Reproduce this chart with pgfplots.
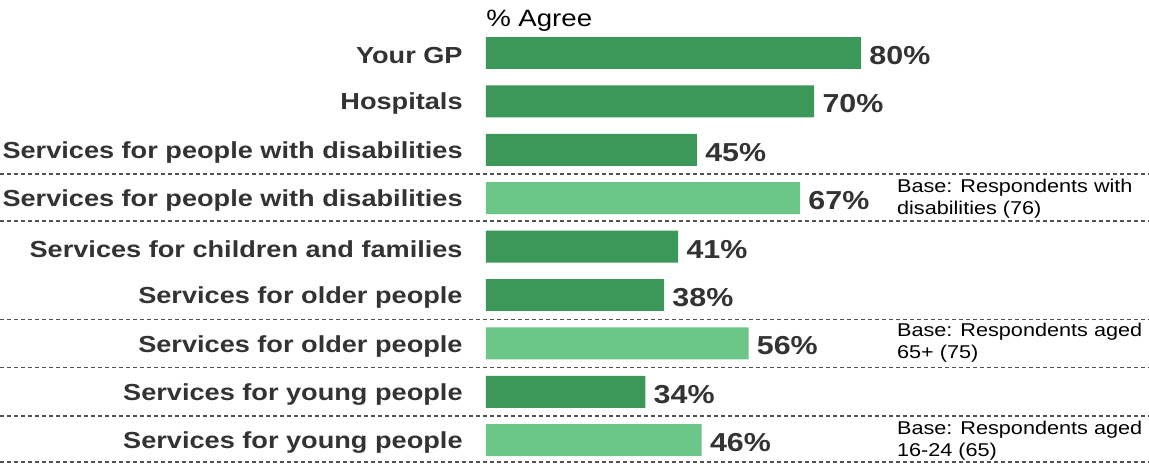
\documentclass[border=0pt]{standalone}
\usepackage{fontspec}
\setmainfont{Liberation Sans}
\usepackage{graphicx}
\usepackage{pgfplots}
\pgfplotsset{compat=1.18}
\definecolor{darkbar}{RGB}{59,152,89}
\definecolor{lightbar}{RGB}{108,198,135}
\definecolor{txt}{RGB}{51,51,51}
% reference text is set a little wide
\newcommand{\sx}[1]{\scalebox{1.17}[1]{#1}}

\begin{document}
\begin{tikzpicture}
\begin{axis}[
    width=574.5pt, height=233pt, scale only axis,
    xmin=-103.6, xmax=141.4,
    ymin=-0.095, ymax=9.533, y dir=reverse,
    axis line style={draw=none},
    xtick=\empty,
    ytick={1,...,9},
    major tick length=0pt,
    yticklabels={\sx{Your GP},\sx{Hospitals},\sx{Services for people with disabilities},
        \sx{Services for people with disabilities},\sx{Services for children and families},
        \sx{Services for older people},\sx{Services for older people},
        \sx{Services for young people},\sx{Services for young people}},
    yticklabel style={anchor=east, inner sep=0pt, xshift=231.5pt, yshift=-1.3pt,
        font=\fontsize{11.6}{12}\selectfont\bfseries, text=txt},
    xbar, bar shift=0pt, bar width=0.66,
    point meta=x,
    nodes near coords={\sx{\pgfmathprintnumber{\pgfplotspointmeta}\%}},
    every node near coord/.append style={anchor=west, inner sep=0pt, xshift=4pt, yshift=-1.3pt,
        font=\fontsize{13}{14}\selectfont\bfseries, text=txt},
    /pgf/number format/assume math mode=true,
    clip=false,
]
\addplot[fill=darkbar, draw=none] coordinates {
    (80,1) (70,2) (45,3) (41,5) (38,6) (34,8)
};
\addplot[fill=lightbar, draw=none] coordinates {
    (67,4) (56,7) (46,9)
};

\node[anchor=west, inner sep=0pt, font=\fontsize{11.8}{12}\selectfont] at (axis cs:0,0.34) {\sx{\% Agree}};

\node[anchor=west, align=left, inner sep=0pt, font=\fontsize{9.25}{11}\selectfont]
    at (axis cs:87.6,4.02) {\sx{Base: Respondents with}\\\sx{disabilities (76)}};
\node[anchor=west, align=left, inner sep=0pt, font=\fontsize{9.25}{11}\selectfont]
    at (axis cs:87.6,6.98) {\sx{Base: Respondents aged}\\\sx{65+ (75)}};
\node[anchor=west, align=left, inner sep=0pt, font=\fontsize{9.25}{11}\selectfont]
    at (axis cs:87.6,9.01) {\sx{Base: Respondents aged}\\\sx{16-24 (65)}};

\draw[dash pattern=on 2pt off 1.5pt, line width=0.7pt, color=txt!85] (axis cs:-103.6,3.5) -- (axis cs:141.4,3.5);
\draw[dash pattern=on 2pt off 1.5pt, line width=0.7pt, color=txt!85] (axis cs:-103.6,4.47) -- (axis cs:141.4,4.47);
\draw[dash pattern=on 2pt off 1.5pt, line width=0.7pt, color=txt!85] (axis cs:-103.6,6.5) -- (axis cs:141.4,6.5);
\draw[dash pattern=on 2pt off 1.5pt, line width=0.7pt, color=txt!85] (axis cs:-103.6,7.5) -- (axis cs:141.4,7.5);
\draw[dash pattern=on 2pt off 1.5pt, line width=0.7pt, color=txt!85] (axis cs:-103.6,8.5) -- (axis cs:141.4,8.5);
\draw[dash pattern=on 2pt off 1.5pt, line width=0.7pt, color=txt!85] (axis cs:-103.6,9.45) -- (axis cs:141.4,9.45);

\coordinate (bl) at (rel axis cs:0,0);
\coordinate (tr) at (rel axis cs:1,1);
\end{axis}
\pgfresetboundingbox
\path[use as bounding box] (bl) rectangle (tr);
\end{tikzpicture}
\end{document}
